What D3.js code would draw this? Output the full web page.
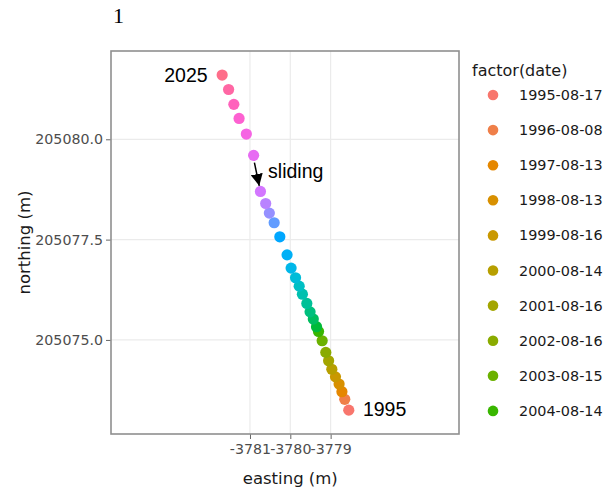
<!DOCTYPE html>
<html>
<head>
<meta charset="utf-8">
<script src="https://cdn.jsdelivr.net/npm/d3@7"></script>
<style>
  body { margin: 0; background: #fff; }
  svg { display: block; }
</style>
</head>
<body>
<svg id="chart" width="608" height="492"></svg>
<script>
// survey dates, oldest first (only the first ten fit in the legend)
var dates = [
  "1995-08-17", "1996-08-08", "1997-08-13", "1998-08-13", "1999-08-16",
  "2000-08-14", "2001-08-16", "2002-08-16", "2003-08-15", "2004-08-14",
  "2005-08-16", "2006-08-15", "2007-08-14", "2008-08-13", "2009-08-18",
  "2010-08-17", "2011-08-16", "2012-08-14", "2013-08-13", "2014-08-19",
  "2015-08-18", "2016-08-16", "2017-08-15", "2018-08-14", "2019-08-13",
  "2021-08-17", "2022-08-16", "2023-08-15", "2024-08-13", "2025-08-12"
];
var easting = [
  -3778.55, -3778.65, -3778.72, -3778.79, -3778.88, -3778.97, -3779.05, -3779.12,
  -3779.21, -3779.30, -3779.35, -3779.43, -3779.51, -3779.59, -3779.70, -3779.78,
  -3779.87, -3779.98, -3780.08, -3780.26, -3780.40, -3780.52, -3780.61, -3780.74,
  -3780.91, -3781.09, -3781.27, -3781.40, -3781.53, -3781.69
];
var northing = [
  205073.25, 205073.52, 205073.71, 205073.90, 205074.08, 205074.27, 205074.48, 205074.69,
  205074.98, 205075.21, 205075.33, 205075.52, 205075.70, 205075.91, 205076.14, 205076.34,
  205076.55, 205076.79, 205077.12, 205077.57, 205077.92, 205078.16, 205078.40, 205078.70,
  205079.60, 205080.13, 205080.52, 205080.87, 205081.24, 205081.60
];
var xTicks = [-3781, -3780, -3779];
var yTicks = [205075.0, 205077.5, 205080.0];

// annotations in data units
var labels = [
  { text: "2025", x: -3782.05, y: 205081.61, anchor: "end" },
  { text: "1995", x: -3778.20, y: 205073.28, anchor: "start" },
  { text: "sliding", x: -3780.55, y: 205079.21, anchor: "start" }
];
var arrow = { x1: -3780.89, y1: 205079.42, x2: -3780.77, y2: 205078.84 };

// ggplot2 style hue palette (polar LUV, c = 100, l = 65)
function hclLuv(h, c, l) {
  var Xn = 95.047, Yn = 100, Zn = 108.883;
  var un = 4 * Xn / (Xn + 15 * Yn + 3 * Zn), vn = 9 * Yn / (Xn + 15 * Yn + 3 * Zn);
  var rad = h * Math.PI / 180, u = c * Math.cos(rad), v = c * Math.sin(rad);
  var Y = Yn * Math.pow((l + 16) / 116, 3);
  var up = u / (13 * l) + un, vp = v / (13 * l) + vn;
  var X = 9 * Y * up / (4 * vp), Z = Y * (12 - 3 * up - 20 * vp) / (4 * vp);
  X /= 100; Y /= 100; Z /= 100;
  var r = 3.2404542 * X - 1.5371385 * Y - 0.4985314 * Z;
  var g = -0.9692660 * X + 1.8760108 * Y + 0.0415560 * Z;
  var b = 0.0556434 * X - 0.2040259 * Y + 1.0572252 * Z;
  function gam(t) {
    t = t <= 0.0031308 ? 12.92 * t : 1.055 * Math.pow(t, 1 / 2.4) - 0.055;
    return Math.round(Math.max(0, Math.min(1, t)) * 255);
  }
  return d3.rgb(gam(r), gam(g), gam(b)).formatHex();
}
var colors = dates.map(function (d, i) { return hclLuv(15 + 360 * i / dates.length, 100, 65); });
var color = d3.scaleOrdinal().domain(dates).range(colors);

var points = dates.map(function (d, i) { return { date: d, x: easting[i], y: northing[i] }; });

var svg = d3.select("#chart"),
    margin = { top: 51, right: 149, bottom: 58, left: 111 },
    width = +svg.attr("width") - margin.left - margin.right,
    height = +svg.attr("height") - margin.top - margin.bottom;

var x = d3.scaleLinear().domain([-3784.446, -3775.817]).range([0, width]);
var y = d3.scaleLinear().domain([205072.656, 205082.2]).range([height, 0]);

svg.append("text")
    .attr("x", 113).attr("y", 23)
    .style("font", "22px 'Liberation Serif', serif")
    .attr("fill", "#000")
    .text("1");

var g = svg.append("g").attr("transform", "translate(" + margin.left + "," + margin.top + ")");

g.append("rect").attr("width", width).attr("height", height).attr("fill", "#fff");

// grid
g.selectAll(".vgrid").data(xTicks).enter().append("line")
    .attr("x1", function (d) { return x(d); }).attr("x2", function (d) { return x(d); })
    .attr("y1", 0).attr("y2", height)
    .attr("stroke", "#ebebeb").attr("stroke-width", 1.2);
g.selectAll(".hgrid").data(yTicks).enter().append("line")
    .attr("y1", function (d) { return y(d); }).attr("y2", function (d) { return y(d); })
    .attr("x1", 0).attr("x2", width)
    .attr("stroke", "#ebebeb").attr("stroke-width", 1.2);

// axes
var xAxis = g.append("g")
    .attr("transform", "translate(0," + height + ")")
    .call(d3.axisBottom(x).tickValues(xTicks).tickSize(5).tickPadding(5)
        .tickFormat(function (d) { return d.toFixed(0); }));
var yAxis = g.append("g")
    .call(d3.axisLeft(y).tickValues(yTicks).tickSize(5).tickPadding(3)
        .tickFormat(function (d) { return d.toFixed(1); }));
[xAxis, yAxis].forEach(function (a) {
  a.select(".domain").remove();
  a.selectAll(".tick line").attr("stroke", "#666");
  a.selectAll(".tick text").attr("fill", "#4d4d4d")
      .style("font", "14.2px 'DejaVu Sans', sans-serif");
});

// panel border
g.append("rect").attr("width", width).attr("height", height)
    .attr("fill", "none").attr("stroke", "#8f8f8f").attr("stroke-width", 1.6);

// points
g.selectAll(".pt").data(points).enter().append("circle")
    .attr("class", "pt")
    .attr("cx", function (d) { return x(d.x); })
    .attr("cy", function (d) { return y(d.y); })
    .attr("r", 5.6)
    .attr("fill", function (d) { return color(d.date); });

// annotations
g.selectAll(".lab").data(labels).enter().append("text")
    .attr("x", function (d) { return x(d.x); })
    .attr("y", function (d) { return y(d.y); })
    .attr("dy", "0.35em")
    .attr("text-anchor", function (d) { return d.anchor; })
    .style("font", "19.5px 'Liberation Sans', Arial, sans-serif")
    .attr("fill", "#000")
    .text(function (d) { return d.text; });

svg.append("defs").append("marker")
    .attr("id", "head").attr("viewBox", "0 0 10 10")
    .attr("refX", 10).attr("refY", 5)
    .attr("markerWidth", 12).attr("markerHeight", 12)
    .attr("markerUnits", "userSpaceOnUse")
    .attr("orient", "auto")
    .append("path").attr("d", "M0,0L10,5L0,10Z").attr("fill", "#000");
g.append("line")
    .attr("x1", x(arrow.x1)).attr("y1", y(arrow.y1))
    .attr("x2", x(arrow.x2)).attr("y2", y(arrow.y2))
    .attr("stroke", "#000").attr("stroke-width", 1.5)
    .attr("marker-end", "url(#head)");

// axis titles
svg.append("text")
    .attr("x", margin.left + x(-3780)).attr("y", 484)
    .attr("text-anchor", "middle")
    .style("font", "16.5px 'DejaVu Sans', sans-serif")
    .attr("fill", "#1a1a1a")
    .text("easting (m)");
svg.append("text")
    .attr("transform", "translate(30," + (margin.top + height / 2) + ") rotate(-90)")
    .attr("text-anchor", "middle")
    .style("font", "16.5px 'DejaVu Sans', sans-serif")
    .attr("fill", "#1a1a1a")
    .text("northing (m)");

// legend: like the plotly legend, only the entries that fit beside the panel show
var legTop = 95, legStep = 35.1;
var shown = dates.filter(function (d, i) { return legTop + i * legStep + 8 < margin.top + height; });
var legend = svg.append("g");
legend.append("text")
    .attr("x", 472).attr("y", 76)
    .style("font", "16px 'DejaVu Sans', sans-serif")
    .attr("fill", "#1a1a1a")
    .text("factor(date)");
var item = legend.selectAll(".item").data(shown).enter().append("g")
    .attr("transform", function (d, i) { return "translate(493," + (legTop + i * legStep) + ")"; });
item.append("circle").attr("r", 5.3).attr("fill", function (d) { return color(d); });
item.append("text")
    .attr("x", 26).attr("dy", "0.35em")
    .style("font", "14.4px 'DejaVu Sans', sans-serif")
    .attr("fill", "#1a1a1a")
    .text(function (d) { return d; });
</script>
</body>
</html>
